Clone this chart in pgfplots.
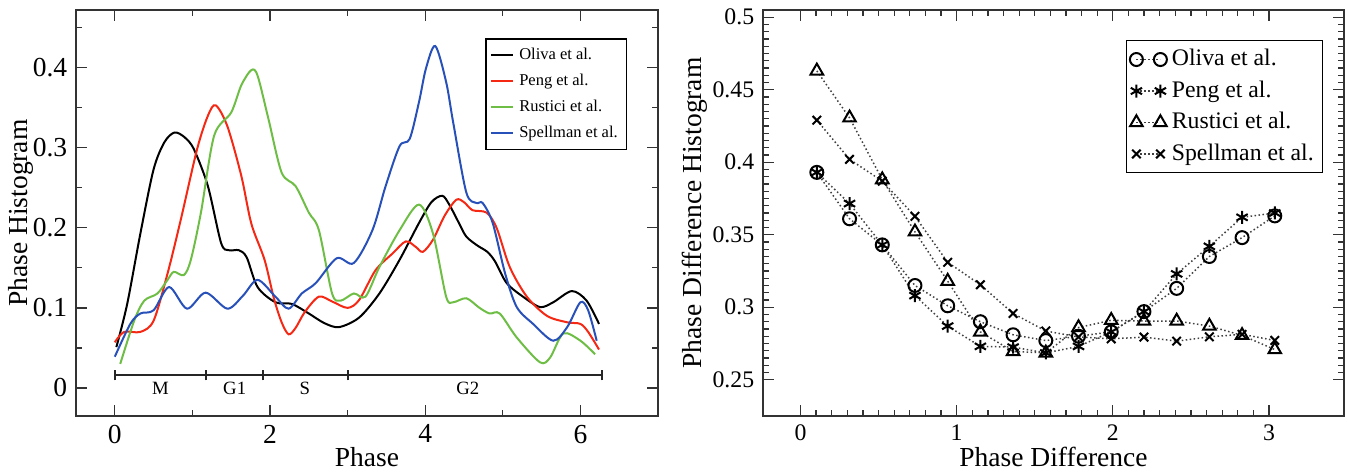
\documentclass[border=0pt]{standalone}
\usepackage{fontspec}
\setmainfont{Liberation Serif}
\usepackage{pgfplots}
\pgfplotsset{compat=1.18}
\definecolor{gracered}{RGB}{245,40,20}
\definecolor{gracegreen}{RGB}{110,190,70}
\definecolor{graceblue}{RGB}{40,80,185}

% xmgrace-like frame: ticks inside, on all four sides
\pgfplotsset{gracebox/.style={
    scale only axis,
    axis line style={line width=0.6pt,black!80},
    tick pos=both, tick align=inside,
    major tick length=4.4pt, minor tick length=2.4pt,
    every tick/.style={black!80,line width=0.5pt},
    /pgf/number format/assume math mode=true}}

\begin{document}
\begin{tikzpicture}
\useasboundingbox (0,0) rectangle (539.2pt,-188.8pt);

% ---------------- left panel: phase histograms ----------------
\begin{axis}[gracebox,
    at={(30.4pt,-4pt)}, anchor=north west,
    width=232.8pt, height=162.4pt,
    xmin=-0.5, xmax=7, ymin=-0.035, ymax=0.472,
    xtick={0,2,4,6}, minor xtick={1,3,5,7},
    ytick={0,0.1,0.2,0.3,0.4}, minor ytick={0.05,0.15,0.25,0.35,0.45},
    tick label style={font=\fontsize{11}{11}\selectfont},
    label style={font=\fontsize{11}{12}\selectfont},
    xlabel={Phase}, ylabel={Phase Histogram},
    xlabel style={at={(axis description cs:0.5,-0.101)},anchor=center},
    ylabel style={at={(axis description cs:-0.095,0.5)},anchor=center},
    legend style={at={(0.947,0.93)},anchor=north east,draw=black,
      line width=0.5pt,font=\fontsize{6.6}{7}\selectfont,
      inner sep=1.5pt,row sep=0.3pt},
    legend cell align=left,
    legend image code/.code={\draw[#1] (0pt,0pt) -- (9pt,0pt);},
    clip=false]

  \addplot[black,line width=0.8pt,smooth] coordinates {
    (0.02,0.051)(0.16,0.105)(0.33,0.193)(0.5,0.273)(0.64,0.307)(0.77,0.319)
    (0.9,0.313)(1.02,0.298)(1.2,0.252)(1.37,0.181)(1.47,0.172)(1.6,0.172)
    (1.7,0.163)(1.84,0.126)(2.07,0.107)(2.28,0.105)(2.5,0.093)(2.7,0.081)
    (2.89,0.076)(3.15,0.088)(3.41,0.118)(3.67,0.16)(3.92,0.206)(4.08,0.232)
    (4.22,0.24)(4.31,0.229)(4.44,0.205)(4.53,0.189)(4.67,0.178)(4.8,0.17)
    (4.9,0.158)(5.05,0.131)(5.26,0.114)(5.48,0.101)(5.65,0.107)(5.89,0.121)
    (6.08,0.109)(6.24,0.08)};
  \addlegendentry{Oliva et al.}

  \addplot[gracered,line width=0.8pt,smooth] coordinates {
    (0.0,0.057)(0.12,0.07)(0.33,0.07)(0.5,0.084)(0.68,0.143)(0.85,0.21)
    (1.06,0.298)(1.2,0.34)(1.3,0.353)(1.45,0.327)(1.63,0.265)(1.76,0.205)
    (1.93,0.16)(2.05,0.112)(2.15,0.082)(2.24,0.067)(2.33,0.075)(2.45,0.095)
    (2.63,0.114)(2.8,0.108)(3.0,0.1)(3.15,0.11)(3.36,0.147)(3.58,0.168)
    (3.75,0.183)(3.88,0.176)(3.97,0.17)(4.1,0.185)(4.25,0.215)(4.4,0.235)
    (4.5,0.232)(4.61,0.222)(4.79,0.219)(4.92,0.2)(5.09,0.151)(5.31,0.114)
    (5.57,0.09)(5.83,0.082)(6.0,0.08)(6.1,0.07)(6.24,0.048)};
  \addlegendentry{Peng et al.}

  \addplot[gracegreen,line width=0.8pt,smooth] coordinates {
    (0.07,0.03)(0.25,0.084)(0.38,0.109)(0.55,0.118)(0.68,0.135)(0.76,0.145)
    (0.89,0.141)(0.98,0.16)(1.11,0.219)(1.28,0.315)(1.5,0.344)(1.63,0.378)
    (1.76,0.397)(1.84,0.39)(1.98,0.336)(2.15,0.269)(2.33,0.252)(2.5,0.219)
    (2.63,0.197)(2.8,0.118)(2.91,0.109)(3.08,0.118)(3.23,0.114)(3.41,0.151)
    (3.67,0.197)(3.92,0.229)(4.1,0.193)(4.27,0.114)(4.36,0.107)(4.53,0.112)
    (4.7,0.1)(4.83,0.093)(4.96,0.093)(5.18,0.063)(5.48,0.032)(5.61,0.038)
    (5.78,0.068)(6.0,0.059)(6.19,0.042)};
  \addlegendentry{Rustici et al.}

  \addplot[graceblue,line width=0.8pt,smooth] coordinates {
    (0.0,0.039)(0.2,0.08)(0.33,0.093)(0.5,0.097)(0.7,0.126)(0.93,0.099)
    (1.17,0.119)(1.45,0.099)(1.65,0.115)(1.84,0.135)(2.07,0.114)(2.24,0.099)
    (2.41,0.118)(2.59,0.131)(2.86,0.162)(3.08,0.156)(3.32,0.197)(3.49,0.252)
    (3.67,0.302)(3.8,0.311)(3.92,0.357)(4.01,0.399)(4.13,0.427)(4.27,0.382)
    (4.36,0.332)(4.53,0.244)(4.66,0.231)(4.74,0.231)(4.87,0.206)(5.03,0.143)
    (5.18,0.101)(5.39,0.08)(5.65,0.059)(5.83,0.076)(6.0,0.107)(6.1,0.097)
    (6.21,0.059)};
  \addlegendentry{Spellman et al.}

  % cell-cycle phase bar
  \draw[line width=0.8pt,black!85] (axis cs:0,0.016) -- (axis cs:6.2832,0.016);
  \draw[line width=0.8pt,black!85] (axis cs:0,0.0095) -- (axis cs:0,0.0225);
  \draw[line width=0.8pt,black!85] (axis cs:1.18,0.0095) -- (axis cs:1.18,0.0225);
  \draw[line width=0.8pt,black!85] (axis cs:1.91,0.0095) -- (axis cs:1.91,0.0225);
  \draw[line width=0.8pt,black!85] (axis cs:3.0,0.0095) -- (axis cs:3.0,0.0225);
  \draw[line width=0.8pt,black!85] (axis cs:6.2832,0.0095) -- (axis cs:6.2832,0.0225);
  \node[font=\fontsize{7.5}{8}\selectfont,inner sep=0pt] at (axis cs:0.59,0) {M};
  \node[font=\fontsize{7.5}{8}\selectfont,inner sep=0pt] at (axis cs:1.545,0) {G1};
  \node[font=\fontsize{7.5}{8}\selectfont,inner sep=0pt] at (axis cs:2.45,0) {S};
  \node[font=\fontsize{7.5}{8}\selectfont,inner sep=0pt] at (axis cs:4.55,0) {G2};
\end{axis}

% ---------------- right panel: phase difference histograms ----------------
\begin{axis}[gracebox,
    at={(305.2pt,-4pt)}, anchor=north west,
    width=232.4pt, height=162.4pt,
    xmin=-0.24, xmax=3.48, ymin=0.225, ymax=0.505,
    xtick={0,1,2,3}, minor x tick num=9,
    ytick={0.25,0.3,0.35,0.4,0.45,0.5}, minor y tick num=9,
    tick label style={font=\fontsize{9.5}{10}\selectfont},
    label style={font=\fontsize{11}{12}\selectfont},
    xlabel={Phase Difference}, ylabel={Phase Difference Histogram},
    xlabel style={at={(axis description cs:0.5,-0.101)},anchor=center},
    ylabel style={at={(axis description cs:-0.117,0.5)},anchor=center},
    legend style={at={(0.964,0.926)},anchor=north east,draw=black,
      line width=0.5pt,font=\fontsize{9.5}{10}\selectfont,
      inner sep=1.5pt,row sep=0.5pt},
    legend cell align=left,
    legend image code/.code={\draw[#1] plot coordinates {(0pt,0pt) (9.6pt,0pt)};},
    every axis plot/.append style={black!75,densely dotted,line width=0.6pt,
      mark options={solid,black,line width=0.8pt}}]

  \addplot[mark=o,mark size=2.6pt] coordinates {
    (0.1047,0.393)(0.3142,0.361)(0.5236,0.343)(0.7330,0.315)(0.9425,0.301)
    (1.1519,0.290)(1.3614,0.281)(1.5708,0.277)(1.7802,0.280)(1.9897,0.283)
    (2.1991,0.297)(2.4086,0.313)(2.6180,0.335)(2.8274,0.348)(3.0369,0.363)};
  \addlegendentry{Oliva et al.}

  \addplot[mark=asterisk,mark size=2.6pt] coordinates {
    (0.1047,0.393)(0.3142,0.3715)(0.5236,0.343)(0.7330,0.308)(0.9425,0.287)
    (1.1519,0.273)(1.3614,0.2725)(1.5708,0.2685)(1.7802,0.273)(1.9897,0.283)
    (2.1991,0.297)(2.4086,0.323)(2.6180,0.342)(2.8274,0.362)(3.0369,0.365)};
  \addlegendentry{Peng et al.}

  \addplot[mark=triangle,mark size=2.9pt] coordinates {
    (0.1047,0.463)(0.3142,0.4306)(0.5236,0.388)(0.7330,0.352)(0.9425,0.318)
    (1.1519,0.283)(1.3614,0.2695)(1.5708,0.2685)(1.7802,0.286)(1.9897,0.291)
    (2.1991,0.2905)(2.4086,0.2905)(2.6180,0.287)(2.8274,0.2806)(3.0369,0.2708)};
  \addlegendentry{Rustici et al.}

  \addplot[mark=x,mark size=2.4pt] coordinates {
    (0.1047,0.429)(0.3142,0.402)(0.5236,0.387)(0.7330,0.3627)(0.9425,0.331)
    (1.1519,0.3155)(1.3614,0.2957)(1.5708,0.2836)(1.7802,0.2795)(1.9897,0.2782)
    (2.1991,0.2794)(2.4086,0.2766)(2.6180,0.2796)(2.8274,0.2813)(3.0369,0.2771)};
  \addlegendentry{Spellman et al.}
\end{axis}
\end{tikzpicture}
\end{document}
